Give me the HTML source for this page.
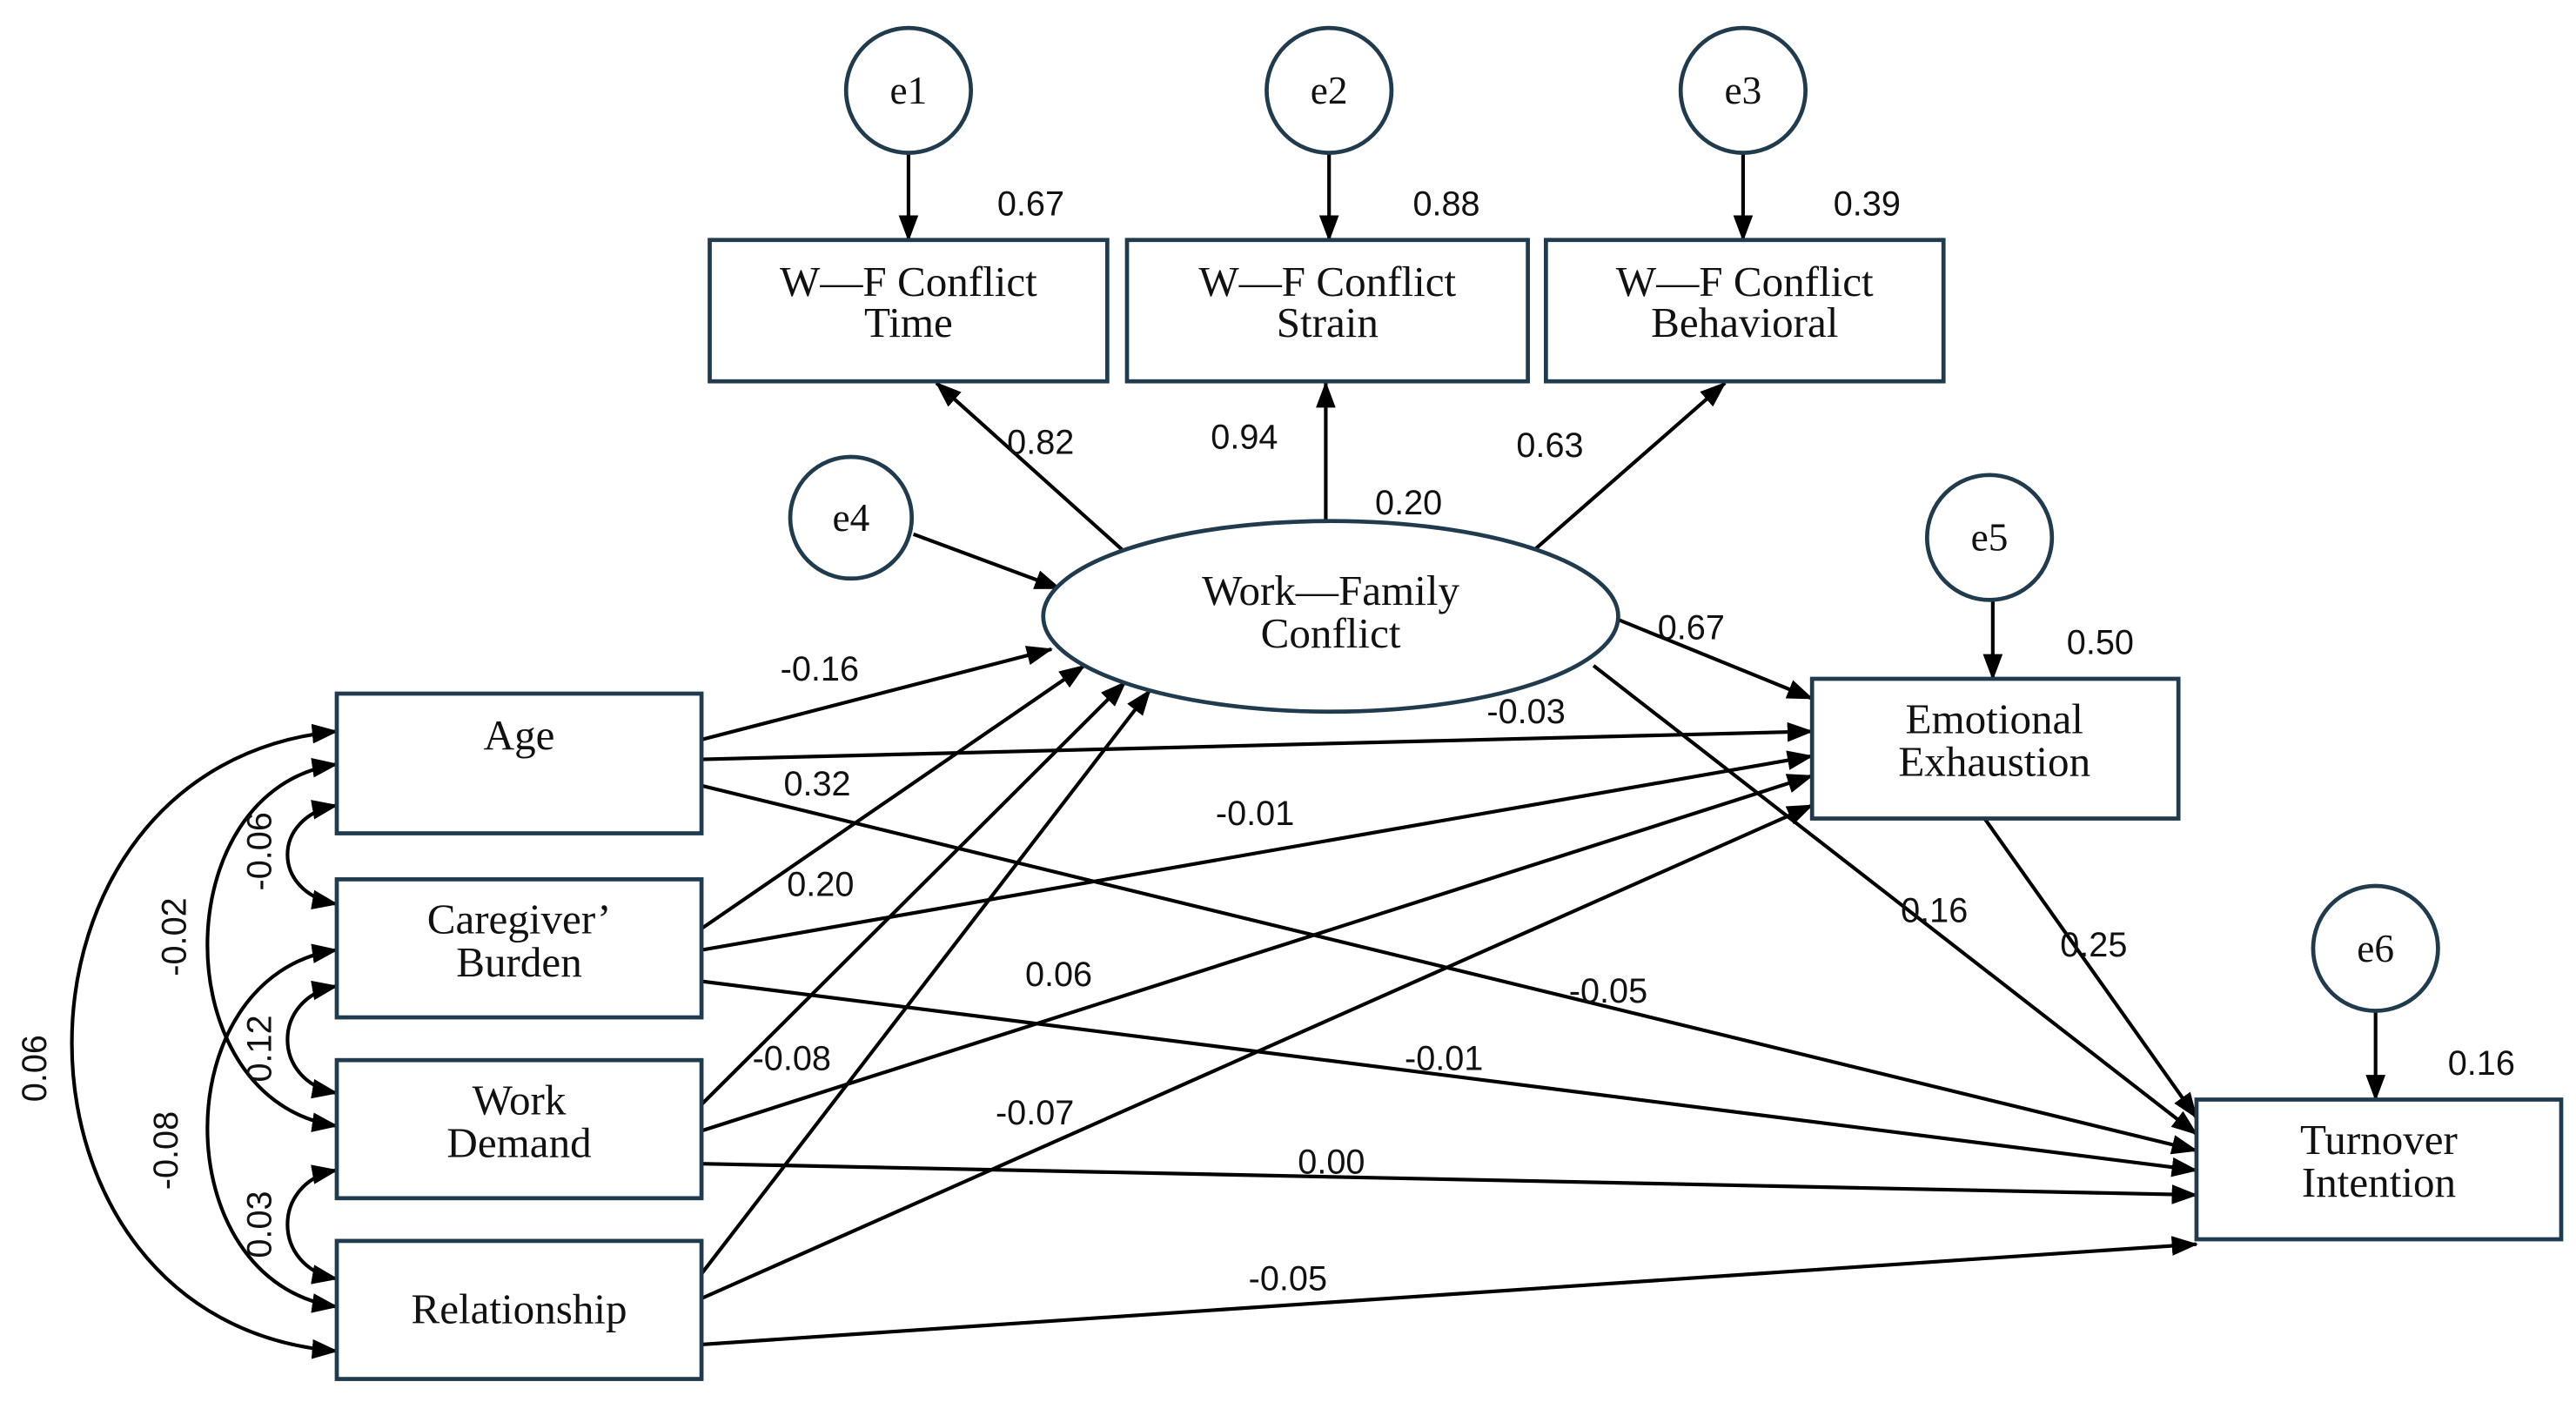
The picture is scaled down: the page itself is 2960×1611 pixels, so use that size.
<!DOCTYPE html>
<html><head><meta charset="utf-8"><style>html,body{margin:0;padding:0;background:#fff}svg{display:block}</style></head>
<body>
<svg width="2960" height="1611" viewBox="0 0 1568 853" preserveAspectRatio="none" xmlns="http://www.w3.org/2000/svg">
<defs>
<marker id="a" markerWidth="16" markerHeight="12" refX="15" refY="6" orient="auto-start-reverse" markerUnits="userSpaceOnUse" viewBox="0 0 16 12"><path d="M0,0 L16,6 L0,12 z" fill="#000"/></marker>
</defs>
<style>
.b{fill:#fff;stroke:#1f3b4d;stroke-width:2.5}
.l{stroke:#000;stroke-width:2.2;fill:none;marker-end:url(#a)}
.c{stroke:#000;stroke-width:2.2;fill:none;marker-end:url(#a);marker-start:url(#a)}
.t{font-family:"Liberation Serif",serif;font-size:26px;text-anchor:middle;fill:#111}
.n{font-family:"Liberation Sans",sans-serif;font-size:21px;fill:#111}
</style>
<line class="l" x1="553" y1="93" x2="553" y2="146"/>
<line class="l" x1="809" y1="93" x2="809" y2="146"/>
<line class="l" x1="1061" y1="93" x2="1061" y2="146"/>
<line class="l" x1="687" y1="338" x2="570" y2="233"/>
<line class="l" x1="807" y1="323" x2="807" y2="233"/>
<line class="l" x1="930" y1="338" x2="1050" y2="233"/>
<line class="l" x1="556" y1="325" x2="645" y2="358"/>
<line class="l" x1="1213" y1="365" x2="1213" y2="413"/>
<line class="l" x1="1446" y1="615" x2="1446" y2="669"/>
<line class="l" x1="985" y1="377" x2="1103" y2="425"/>
<line class="l" x1="970" y1="405" x2="1337" y2="690"/>
<line class="l" x1="1208" y1="498" x2="1337" y2="680"/>
<line class="l" x1="427" y1="450" x2="640" y2="395"/>
<line class="l" x1="427" y1="462" x2="1103" y2="445"/>
<line class="l" x1="427" y1="478" x2="1337" y2="700"/>
<line class="l" x1="427" y1="565" x2="660" y2="405"/>
<line class="l" x1="427" y1="578" x2="1103" y2="460"/>
<line class="l" x1="427" y1="597" x2="1337" y2="712"/>
<line class="l" x1="427" y1="672" x2="685" y2="415"/>
<line class="l" x1="427" y1="688" x2="1103" y2="472"/>
<line class="l" x1="427" y1="708" x2="1337" y2="727"/>
<line class="l" x1="427" y1="775" x2="700" y2="420"/>
<line class="l" x1="427" y1="790" x2="1103" y2="490"/>
<line class="l" x1="427" y1="818" x2="1337" y2="757"/>
<path class="c" d="M205,490 C165,497 165,543 205,550"/>
<path class="c" d="M205,465 C100,480 100,670 205,685"/>
<path class="c" d="M205,445 C-10,465 -10,805 205,822"/>
<path class="c" d="M205,600 C165,607 165,658 205,665"/>
<path class="c" d="M205,578 C100,593 100,780 205,795"/>
<path class="c" d="M205,712 C165,719 165,771 205,778"/>
<circle class="b" cx="553" cy="55" r="38"/><text class="t" x="553" y="63" style="font-size:24px">e1</text>
<circle class="b" cx="809" cy="55" r="38"/><text class="t" x="809" y="63" style="font-size:24px">e2</text>
<circle class="b" cx="1061" cy="55" r="38"/><text class="t" x="1061" y="63" style="font-size:24px">e3</text>
<circle class="b" cx="518" cy="315" r="37"/><text class="t" x="518" y="323" style="font-size:24px">e4</text>
<circle class="b" cx="1211" cy="327" r="38"/><text class="t" x="1211" y="335" style="font-size:24px">e5</text>
<circle class="b" cx="1446" cy="577" r="38"/><text class="t" x="1446" y="585" style="font-size:24px">e6</text>
<rect class="b" x="432" y="146" width="242" height="86"/><text class="t" x="553" y="180">W—F Conflict</text><text class="t" x="553" y="205">Time</text>
<rect class="b" x="686" y="146" width="244" height="86"/><text class="t" x="808" y="180">W—F Conflict</text><text class="t" x="808" y="205">Strain</text>
<rect class="b" x="941" y="146" width="242" height="86"/><text class="t" x="1062" y="180">W—F Conflict</text><text class="t" x="1062" y="205">Behavioral</text>
<ellipse class="b" cx="810" cy="375" rx="175" ry="58"/><text class="t" x="810" y="368">Work—Family</text><text class="t" x="810" y="394">Conflict</text>
<rect class="b" x="1103" y="413" width="223" height="85"/><text class="t" x="1214" y="446">Emotional</text><text class="t" x="1214" y="472">Exhaustion</text>
<rect class="b" x="1337" y="669" width="222" height="85"/><text class="t" x="1448" y="702">Turnover</text><text class="t" x="1448" y="728">Intention</text>
<rect class="b" x="205" y="422" width="222" height="85"/><text class="t" x="316" y="456">Age</text>
<rect class="b" x="205" y="535" width="222" height="84"/><text class="t" x="316" y="568">Caregiver’</text><text class="t" x="316" y="594">Burden</text>
<rect class="b" x="205" y="645" width="222" height="84"/><text class="t" x="316" y="678">Work</text><text class="t" x="316" y="704">Demand</text>
<rect class="b" x="205" y="755" width="222" height="84"/><text class="t" x="316" y="805">Relationship</text>
<g class="n">
<text x="607" y="131">0.67</text><text x="860" y="131">0.88</text><text x="1116" y="131">0.39</text>
<text x="613" y="276">0.82</text><text x="737" y="273">0.94</text><text x="923" y="278">0.63</text>
<text x="837" y="313">0.20</text>
<text x="1258" y="398">0.50</text><text x="1490" y="654">0.16</text>
<text x="1009" y="389">0.67</text><text x="1157" y="561">0.16</text><text x="1254" y="582">0.25</text>
<text x="475" y="414">-0.16</text><text x="905" y="440">-0.03</text><text x="955" y="610">-0.05</text>
<text x="477" y="484">0.32</text><text x="740" y="502">-0.01</text><text x="855" y="651">-0.01</text>
<text x="479" y="545">0.20</text><text x="624" y="600">0.06</text><text x="790" y="714">0.00</text>
<text x="458" y="651">-0.08</text><text x="606" y="684">-0.07</text><text x="760" y="785">-0.05</text>
<text transform="translate(165,518) rotate(-90)" text-anchor="middle">-0.06</text>
<text transform="translate(113,570) rotate(-90)" text-anchor="middle">-0.02</text>
<text transform="translate(28,650) rotate(-90)" text-anchor="middle">0.06</text>
<text transform="translate(165,638) rotate(-90)" text-anchor="middle">0.12</text>
<text transform="translate(108,700) rotate(-90)" text-anchor="middle">-0.08</text>
<text transform="translate(165,745) rotate(-90)" text-anchor="middle">0.03</text>
</g>
</svg>
</body></html>
